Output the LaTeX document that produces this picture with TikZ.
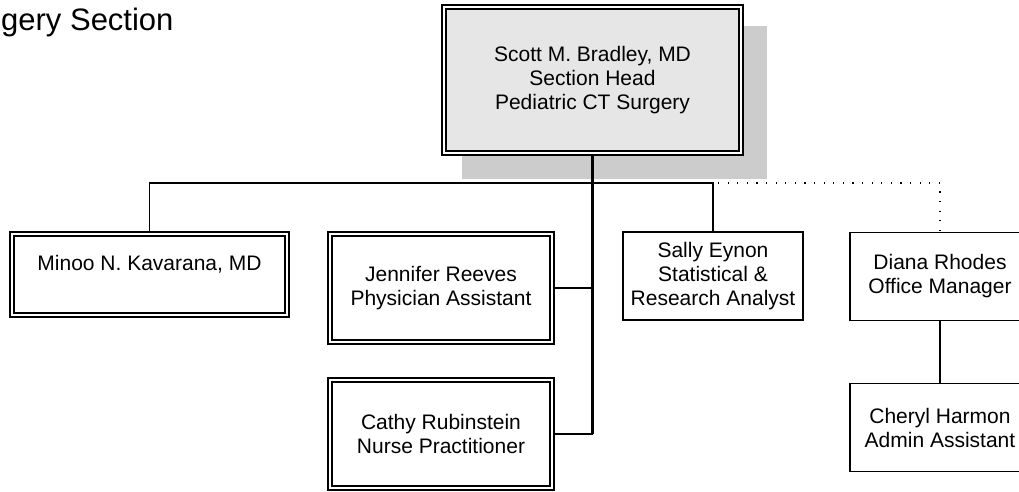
\documentclass[tikz,border=0pt]{standalone}
\usepackage{fontspec}
\setmainfont{Liberation Sans}
\usetikzlibrary{positioning,calc,backgrounds}
\definecolor{headfill}{HTML}{E6E6E6}
\definecolor{shadowgray}{HTML}{CCCCCC}

\begin{document}
\begin{tikzpicture}[
  x=1pt, y=-1pt,
  font=\fontsize{21}{24}\selectfont,
  member/.style={draw=black, line width=1.8pt, double=white, double distance=2.4pt, align=center, inner sep=0pt},
  staff/.style={draw=black, line width=1.6pt, align=center, inner sep=0pt, minimum width=180pt, minimum height=88pt},
  link/.style={line width=1.8pt},
  trunk/.style={line width=2.4pt},
  dotlink/.style={line width=1.2pt, dash pattern=on 1.2pt off 8.4pt}
]
\useasboundingbox (0,0) rectangle (1019,492);

%% ============ Title ============
\node[anchor=base west, inner sep=0pt, font=\fontsize{31}{34}\selectfont] (title) at (1,31) {gery Section};

%% ============ Section head with shadow ============
\node[member, fill=headfill, minimum width=297pt, minimum height=146pt] (head) at (592.5,80)
  {Scott M. Bradley, MD\\Section Head\\Pediatric CT Surgery};
\begin{scope}[on background layer]
  \fill[shadowgray] ($(head.north west)+(19,19.5)$) rectangle ($(head.south east)+(25,25.5)$);
\end{scope}

%% ============ Row 1: direct reports (y = 231) ============
\node[member, minimum width=275pt, minimum height=81pt]  (minoo)    at (149.5,274.5) {Minoo N. Kavarana, MD\\~};
\node[member, minimum width=222pt, minimum height=108pt] (jennifer) at (441,288)     {Jennifer Reeves\\Physician Assistant};
\node[staff]                                             (sally)    at (713,276)     {Sally Eynon\\Statistical \&\\Research Analyst};
\node[staff]                                             (diana)    at (940,276.5)   {Diana Rhodes\\Office Manager};

%% ============ Row 2 ============
\node[member, minimum width=222pt, minimum height=108pt] (cathy)    at (441,434)     {Cathy Rubinstein\\Nurse Practitioner};
\node[staff]                                             (cheryl)   at (940,427.5)   {Cheryl Harmon\\Admin Assistant};

%% ============ Connectors ============
\coordinate (bar) at (592.5,183);

\draw[trunk] (head.south) -- (head.south |- cathy.east);
\draw[link] (minoo.north) -- (minoo.north |- bar) -- (sally.north |- bar) -- (sally.north);
\draw[link] (jennifer.east) -- (jennifer.east -| bar);
\draw[link] (cathy.east) -- (cathy.east -| bar);

%% dotted line to the office manager
\draw[dotlink] ($(sally.north |- bar)+(5,0)$) -- (diana.north |- bar) -- (diana.north);
\draw[link] (diana) -- (cheryl);

\end{tikzpicture}
\end{document}
